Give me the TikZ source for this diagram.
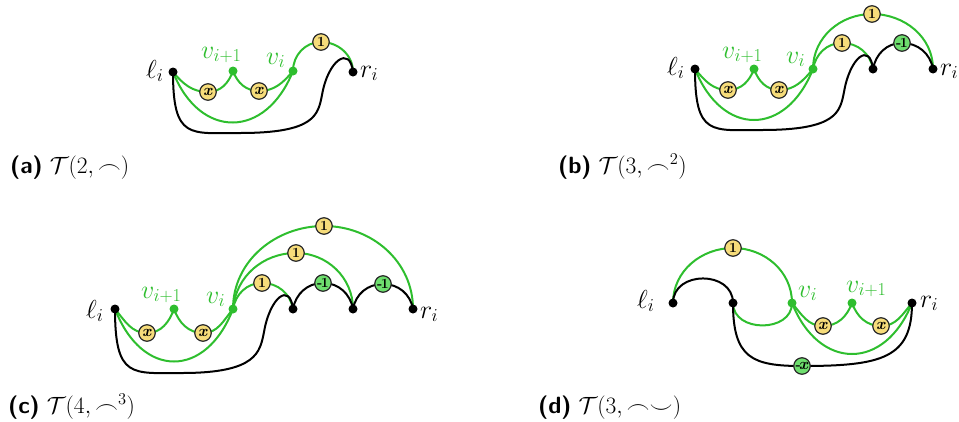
\RequirePackage{fix-cm}
\documentclass[tikz,border=0pt]{standalone}
\usetikzlibrary{backgrounds}
\definecolor{gline}{RGB}{46,190,46}
\definecolor{yfill}{RGB}{246,220,122}
\definecolor{gfill}{RGB}{110,222,110}
\definecolor{nborder}{RGB}{40,40,40}
\tikzset{
 bdot/.style={circle,fill=black,inner sep=0pt,minimum size=9pt},
 gdot/.style={bdot,fill=gline},
 ynode/.style={circle,draw=nborder,line width=1.2pt,fill=yfill,inner sep=0pt,minimum size=16.5pt,font=\fontsize{14}{14}\selectfont\bfseries},
 gnode/.style={ynode,fill=gfill},
 gedge/.style={draw=gline,line width=2pt},
 bedge/.style={draw=black,line width=2pt},
 lab/.style={anchor=base west,inner sep=0pt,font=\fontsize{26}{30}\selectfont},
 glab/.style={lab,text=gline},
 captext/.style={anchor=base west,inner sep=0pt,font=\fontsize{23.5}{27}\selectfont},
}
\newcommand{\xx}{{\fontsize{16}{16}\selectfont\textit{x}}}
\newcommand{\mone}{-\kern-1.5pt1}
\newcommand{\mxx}{-\kern-2pt{\fontsize{16}{16}\selectfont\textit{x}}}
\begin{document}
\begin{tikzpicture}[x=1pt,y=1pt]
\useasboundingbox (0,0) rectangle (959,-421);

% ---------------- (a)
\node[bdot] (a-l) at (173,-72) {};
\node[gdot] (a-v1) at (233,-71) {};
\node[gdot] (a-v0) at (293,-71) {};
\node[bdot] (a-r) at (353,-72) {};
\node[ynode] (a-x1) at (208,-92) {\xx};
\node[ynode] (a-x2) at (259,-91) {\xx};
\node[ynode] (a-o1) at (321,-42) {1};
\node[lab] (a-ll) at (146,-78) {$\ell_i$};
\node[lab] (a-rl) at (360,-77) {$r_i$};
\node[glab] (a-v1l) at (201,-58) {$v_{i+1}$};
\node[glab] (a-v0l) at (266,-64) {$v_i$};
\node[captext] (a-cap) at (10,-173) {\textsf{\textbf{(a)}} $\mathcal{T}(2,\frown)$};
\begin{scope}[on background layer]
\draw[gedge] (a-l.center) to[out=-50,in=180] (a-x1.center) to[out=0,in=-110] (a-v1.center)
  to[out=-70,in=180] (a-x2.center) to[out=0,in=-130] (a-v0.center);
\draw[gedge] (a-l.center) .. controls +(27,-68) and +(-27,-68) .. (a-v0.center);
\draw[gedge] (a-v0.center) to[out=90,in=180] (a-o1.center) to[out=0,in=90] (a-r.center);
\draw[bedge] (a-l.center) .. controls +(0,-68) and +(-50,0) .. ++(67,-61)
  .. controls +(75,0) and +(-4,-20) .. ++(82,38)
  .. controls +(6,35) and +(-3,27) .. (a-r.center);
\end{scope}

% ---------------- (b)
\node[bdot] (b-l) at (695,-69) {};
\node[gdot] (b-v1) at (754,-69) {};
\node[gdot] (b-v0) at (813,-69) {};
\node[bdot] (b-m) at (873,-69) {};
\node[bdot] (b-r) at (933,-69) {};
\node[ynode] (b-x1) at (728,-90) {\xx};
\node[ynode] (b-x2) at (779,-90) {\xx};
\node[ynode] (b-o1) at (842,-43) {1};
\node[gnode] (b-n1) at (902,-43) {\mone};
\node[ynode] (b-o2) at (872,-14) {1};
\node[lab] (b-ll) at (667,-75) {$\ell_i$};
\node[lab] (b-rl) at (940,-75) {$r_i$};
\node[glab] (b-v1l) at (722,-58) {$v_{i+1}$};
\node[glab] (b-v0l) at (786,-63) {$v_i$};
\node[captext] (b-cap) at (558,-173) {\textsf{\textbf{(b)}} $\mathcal{T}(3,\frown^2)$};
\begin{scope}[on background layer]
\draw[gedge] (b-l.center) to[out=-50,in=180] (b-x1.center) to[out=0,in=-110] (b-v1.center)
  to[out=-70,in=180] (b-x2.center) to[out=0,in=-130] (b-v0.center);
\draw[gedge] (b-l.center) .. controls +(27,-68) and +(-27,-68) .. (b-v0.center);
\draw[gedge] (b-v0.center) to[out=80,in=180] (b-o1.center) to[out=0,in=100] (b-m.center);
\draw[gedge] (b-v0.center) to[out=90,in=180] (b-o2.center) to[out=0,in=90] (b-r.center);
\draw[bedge] (b-m.center) to[out=80,in=180] (b-n1.center) to[out=0,in=100] (b-r.center);
\draw[bedge] (b-l.center) .. controls +(0,-68) and +(-50,0) .. ++(67,-61)
  .. controls +(75,0) and +(-4,-20) .. ++(82,38)
  .. controls +(6,35) and +(-3,27) .. (b-m.center);
\end{scope}

% ---------------- (c)
\node[bdot] (c-l) at (115,-309) {};
\node[gdot] (c-v1) at (174,-309) {};
\node[gdot] (c-v0) at (233,-309) {};
\node[bdot] (c-d2) at (293,-309) {};
\node[bdot] (c-d3) at (353,-309) {};
\node[bdot] (c-r) at (413,-309) {};
\node[ynode] (c-x1) at (147,-333) {\xx};
\node[ynode] (c-x2) at (203,-333) {\xx};
\node[ynode] (c-o1) at (262,-283) {1};
\node[gnode] (c-n1) at (323,-283) {\mone};
\node[gnode] (c-n2) at (383,-284) {\mone};
\node[ynode] (c-o2) at (296,-253) {1};
\node[ynode] (c-o3) at (324,-226) {1};
\node[lab] (c-ll) at (86,-318) {$\ell_i$};
\node[lab] (c-rl) at (420,-318) {$r_i$};
\node[glab] (c-v1l) at (141,-298) {$v_{i+1}$};
\node[glab] (c-v0l) at (206,-303) {$v_i$};
\node[captext] (c-cap) at (8,-413) {\textsf{\textbf{(c)}} $\mathcal{T}(4,\frown^3)$};
\begin{scope}[on background layer]
\draw[gedge] (c-l.center) to[out=-50,in=180] (c-x1.center) to[out=0,in=-110] (c-v1.center)
  to[out=-70,in=180] (c-x2.center) to[out=0,in=-130] (c-v0.center);
\draw[gedge] (c-l.center) .. controls +(27,-70) and +(-27,-70) .. (c-v0.center);
\draw[gedge] (c-v0.center) to[out=80,in=180] (c-o1.center) to[out=0,in=100] (c-d2.center);
\draw[gedge] (c-v0.center) to[out=85,in=180] (c-o2.center) to[out=0,in=90] (c-d3.center);
\draw[gedge] (c-v0.center) to[out=90,in=180] (c-o3.center) to[out=0,in=90] (c-r.center);
\draw[bedge] (c-d2.center) to[out=80,in=180] (c-n1.center) to[out=0,in=100] (c-d3.center);
\draw[bedge] (c-d3.center) to[out=80,in=180] (c-n2.center) to[out=0,in=100] (c-r.center);
\draw[bedge] (c-l.center) .. controls +(0,-70) and +(-50,0) .. ++(67,-64)
  .. controls +(75,0) and +(-4,-20) .. ++(82,41)
  .. controls +(6,35) and +(-3,27) .. (c-d2.center);
\end{scope}

% ---------------- (d)
\node[bdot] (d-l) at (673,-303) {};
\node[bdot] (d-b) at (733,-303) {};
\node[gdot] (d-v0) at (792,-303) {};
\node[gdot] (d-v1) at (852,-303) {};
\node[bdot] (d-r) at (912,-303) {};
\node[ynode] (d-o1) at (733,-248) {1};
\node[ynode] (d-x1) at (823,-326) {\xx};
\node[ynode] (d-x2) at (881,-326) {\xx};
\node[gnode] (d-nx) at (802,-366) {\mxx};
\node[lab] (d-ll) at (637,-308) {$\ell_i$};
\node[lab] (d-rl) at (920,-307) {$r_i$};
\node[glab] (d-v0l) at (798,-297) {$v_i$};
\node[glab] (d-v1l) at (846,-292) {$v_{i+1}$};
\node[captext] (d-cap) at (538,-413) {\textsf{\textbf{(d)}} $\mathcal{T}(3,\frown\smile)$};
\begin{scope}[on background layer]
\draw[gedge] (d-l.center) to[out=90,in=180] (d-o1.center) to[out=0,in=90] (d-v0.center);
\draw[bedge] (d-l.center) to[out=90,in=90,looseness=1.4] (d-b.center);
\draw[gedge] (d-b.center) to[out=-90,in=-90,looseness=1.3] (d-v0.center);
\draw[gedge] (d-v0.center) to[out=-50,in=180] (d-x1.center) to[out=0,in=-110] (d-v1.center)
  to[out=-70,in=180] (d-x2.center) to[out=0,in=-130] (d-r.center);
\draw[gedge] (d-v0.center) .. controls +(27,-68) and +(-27,-68) .. (d-r.center);
\draw[bedge] (d-b.center) .. controls +(0,-55) and +(-50,0) .. (d-nx.center)
  .. controls +(80,0) and +(0,-55) .. (d-r.center);
\end{scope}
\end{tikzpicture}
\end{document}
